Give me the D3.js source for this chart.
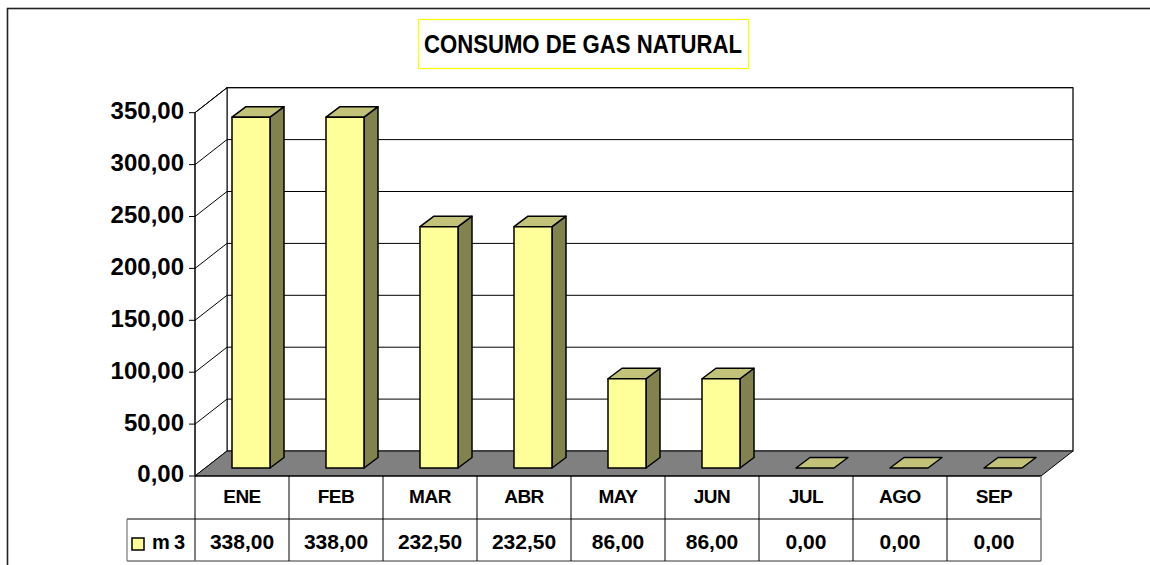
<!DOCTYPE html>
<html>
<head>
<meta charset="utf-8">
<script src="https://cdn.jsdelivr.net/npm/d3@7"></script>
<style>
  html, body { margin: 0; padding: 0; background: #fff; }
  svg { display: block; font-family: "Liberation Sans", Arial, sans-serif; font-weight: bold; }
</style>
</head>
<body>
<svg id="chart" width="1150" height="565"></svg>
<script>
// ---- data ----
const categories = ["ENE", "FEB", "MAR", "ABR", "MAY", "JUN", "JUL", "AGO", "SEP"];
const values = [338.00, 338.00, 232.50, 232.50, 86.00, 86.00, 0.00, 0.00, 0.00];
const seriesName = "m3";
const yTicks = [0, 50, 100, 150, 200, 250, 300, 350];
const chartTitle = "CONSUMO DE GAS NATURAL";

(function () {
const fmt = v => v.toFixed(2).replace(".", ",");

const svg = d3.select("#chart");

// outer chart border (extends beyond right/bottom)
svg.append("rect").attr("x", 7.5).attr("y", 8.5).attr("width", 1200).attr("height", 700)
  .attr("fill", "#fff").attr("stroke", "#222").attr("stroke-width", 1.6);

// geometry
const frontY0 = 476, frontYTop = 112.7;
const wallDX = 32, wallDY = -25;         // depth of plot box
const barOffDX = 9, barOffDY = -8;       // bar front plane offset
const barDX = 14, barDY = -10.5;         // bar depth
const barW = 38;

const x = d3.scaleBand().domain(categories).range([195, 1041]).paddingInner(0).paddingOuter(0);
const y = d3.scaleLinear().domain([0, 350]).range([frontY0, frontYTop]);

const xL = 195, xR = 1041;

// back wall
svg.append("rect")
  .attr("x", xL + wallDX).attr("y", y(350) + wallDY)
  .attr("width", xR - xL).attr("height", y(0) - y(350))
  .attr("fill", "#fff").attr("stroke", "#000").attr("stroke-width", 1);
svg.append("line")
  .attr("x1", xR + wallDX).attr("x2", xR + wallDX)
  .attr("y1", y(350) + wallDY).attr("y2", y(0) + wallDY)
  .attr("stroke", "#555").attr("stroke-width", 1.6);

// side wall
svg.append("path")
  .attr("d", `M${xL},${y(0)} L${xL},${y(350)} L${xL + wallDX},${y(350) + wallDY} L${xL + wallDX},${y(0) + wallDY} Z`)
  .attr("fill", "#fff").attr("stroke", "#000").attr("stroke-width", 1);

// gridlines on back wall and side wall
yTicks.forEach(t => {
  if (t === 0) return;
  svg.append("line")
    .attr("x1", xL + wallDX).attr("x2", xR + wallDX)
    .attr("y1", y(t) + wallDY).attr("y2", y(t) + wallDY)
    .attr("stroke", "#000").attr("stroke-width", 1);
  svg.append("line")
    .attr("x1", xL).attr("y1", y(t))
    .attr("x2", xL + wallDX).attr("y2", y(t) + wallDY)
    .attr("stroke", "#000").attr("stroke-width", 1);
});

// floor
svg.append("path")
  .attr("d", `M${xL},${y(0)} L${xR},${y(0)} L${xR + wallDX},${y(0) + wallDY} L${xL + wallDX},${y(0) + wallDY} Z`)
  .attr("fill", "#808080").attr("stroke", "#000").attr("stroke-width", 1);

// y axis
svg.append("line").attr("x1", xL).attr("x2", xL).attr("y1", y(350)).attr("y2", 561)
  .attr("stroke", "#000").attr("stroke-width", 1);
const yAxisG = svg.append("g");
yTicks.forEach(t => {
  yAxisG.append("line").attr("x1", xL - 6).attr("x2", xL).attr("y1", y(t)).attr("y2", y(t))
    .attr("stroke", "#000");
  yAxisG.append("text").attr("x", 184).attr("y", y(t) + 6.4)
    .attr("text-anchor", "end").attr("font-size", 24).attr("fill", "#000")
    .text(fmt(t));
});

// bars
const cFront = "#FFFF99", cTop = "#C2C278", cSide = "#82824E";
const barsG = svg.append("g");
categories.forEach((c, i) => {
  const v = values[i];
  const cx = x(c) + x.bandwidth() / 2 + barOffDX;
  const x0 = cx - barW / 2, x1 = cx + barW / 2;
  const yb = y(0) + barOffDY;
  const yt = y(v) + barOffDY;
  const g = barsG.append("g").attr("stroke", "#000").attr("stroke-width", 1.5).attr("stroke-linejoin", "round");
  if (v > 0) {
    g.append("path").attr("fill", cSide)
      .attr("d", `M${x1},${yb} L${x1 + barDX},${yb + barDY} L${x1 + barDX},${yt + barDY} L${x1},${yt} Z`);
    g.append("path").attr("fill", cTop)
      .attr("d", `M${x0},${yt} L${x0 + barDX},${yt + barDY} L${x1 + barDX},${yt + barDY} L${x1},${yt} Z`);
    g.append("rect").attr("fill", cFront).attr("x", x0).attr("y", yt).attr("width", barW).attr("height", yb - yt);
  } else {
    g.append("path").attr("fill", cTop)
      .attr("d", `M${x0},${yb} L${x0 + barDX},${yb + barDY} L${x1 + barDX},${yb + barDY} L${x1},${yb} Z`);
  }
});

// data table
const tbl = svg.append("g");
const rowTop = 476, rowMid = 519, rowBot = 561, legL = 127;
tbl.append("line").attr("x1", xL).attr("x2", xR).attr("y1", rowTop).attr("y2", rowTop).attr("stroke", "#000");
tbl.append("line").attr("x1", legL).attr("x2", xR).attr("y1", rowMid).attr("y2", rowMid).attr("stroke", "#000");
tbl.append("line").attr("x1", legL).attr("x2", xR).attr("y1", rowBot).attr("y2", rowBot).attr("stroke", "#777").attr("stroke-width", 1.5);
tbl.append("line").attr("x1", legL).attr("x2", legL).attr("y1", rowMid).attr("y2", rowBot).attr("stroke", "#777").attr("stroke-width", 1.2);
categories.forEach((c, i) => {
  const xr = x(c) + x.bandwidth();
  const last = i === categories.length - 1;
  tbl.append("line").attr("x1", xr).attr("x2", xr).attr("y1", rowTop).attr("y2", rowBot)
    .attr("stroke", last ? "#777" : "#000").attr("stroke-width", last ? 1.5 : 1);
  tbl.append("text").attr("x", x(c) + x.bandwidth() / 2).attr("y", 503)
    .attr("text-anchor", "middle").attr("font-size", 19).attr("letter-spacing", -0.5).text(c);
  tbl.append("text").attr("x", x(c) + x.bandwidth() / 2).attr("y", 549)
    .attr("text-anchor", "middle").attr("font-size", 21).text(fmt(values[i]));
});
// legend key
tbl.append("rect").attr("x", 132).attr("y", 538).attr("width", 12).attr("height", 12)
  .attr("fill", cFront).attr("stroke", "#000").attr("stroke-width", 1.5);
tbl.append("text").attr("x", 152).attr("y", 549).attr("font-size", 20)
  .attr("textLength", 33).attr("lengthAdjust", "spacing").text(seriesName);

// title
svg.append("rect").attr("x", 418.5).attr("y", 19.5).attr("width", 330).attr("height", 49)
  .attr("fill", "#fff").attr("stroke", "#FFFF00").attr("stroke-width", 1.2);
svg.append("text")
  .attr("transform", "translate(583,53) scale(1,1.15)")
  .attr("text-anchor", "middle").attr("font-size", 22)
  .attr("textLength", 318).attr("lengthAdjust", "spacingAndGlyphs")
  .text(chartTitle);
})();
</script>
</body>
</html>
